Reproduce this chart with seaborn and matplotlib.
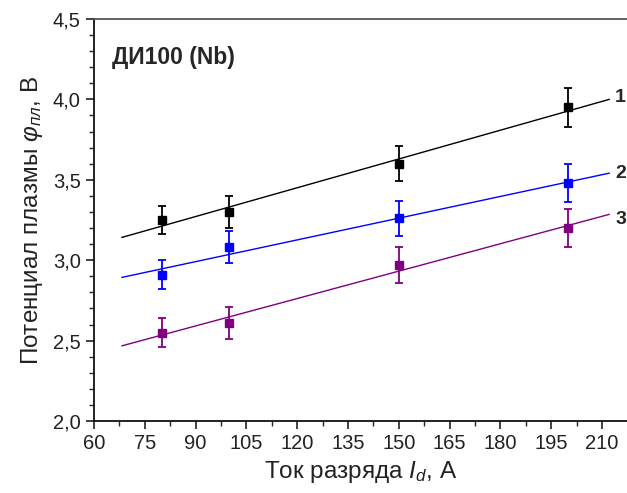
import numpy as np
import pandas as pd
import matplotlib
matplotlib.use("Agg")
import matplotlib.pyplot as plt
import seaborn as sns
from matplotlib.ticker import MultipleLocator, FuncFormatter

# ---- data ----
current = [80, 100, 150, 200]
phi_1 = [3.25, 3.30, 3.60, 3.95]
err_1 = [0.09, 0.10, 0.11, 0.12]
phi_2 = [2.91, 3.08, 3.26, 3.48]
err_2 = [0.09, 0.10, 0.11, 0.12]
phi_3 = [2.55, 2.61, 2.97, 3.20]
err_3 = [0.09, 0.10, 0.11, 0.12]
series_names = ["1", "2", "3"]
colors = ["#000000", "#0000FF", "#800080"]
fit_range = [68.2, 212.2]

sns.set_style("ticks")
plt.rcParams['font.family'] = ['Liberation Sans', 'DejaVu Sans']
plt.rcParams['mathtext.fontset'] = 'custom'
plt.rcParams['mathtext.rm'] = 'Liberation Sans'
plt.rcParams['mathtext.it'] = 'Liberation Sans:italic'

fig = plt.figure(figsize=(6.27, 4.93), dpi=100)
ax = fig.add_axes([94/627, 1-421/493, 1-94/627, (421-19)/493])

rows = []
for name, ys, es in zip(series_names, [phi_1, phi_2, phi_3], [err_1, err_2, err_3]):
    for x, y, e in zip(current, ys, es):
        rows.append({"series": name, "I": x, "phi": y, "err": e})
df = pd.DataFrame(rows)

fit_rows = []
for name, ys in zip(series_names, [phi_1, phi_2, phi_3]):
    k, b = np.polyfit(current, ys, 1)
    for x in fit_range:
        fit_rows.append({"series": name, "I": x, "phi": k * x + b})
fit_df = pd.DataFrame(fit_rows)

palette = dict(zip(series_names, colors))
sns.lineplot(data=fit_df, x="I", y="phi", hue="series", palette=palette,
             linewidth=1.0, legend=False, ax=ax)

for name in series_names:
    sub = df[df.series == name]
    ax.errorbar(sub["I"], sub["phi"], yerr=sub["err"], fmt="s", color=palette[name],
                markersize=5.5, capsize=3, elinewidth=1.3, capthick=1.3)

label_y = [4.01, 3.54, 3.25]
for name, yl in zip(series_names, label_y):
    ax.text(213.9, yl, name, fontsize=14, fontweight="bold", va="center", ha="left")

ax.text(0.034, 0.905, "ДИ100 (Nb)", transform=ax.transAxes, fontsize=16.5,
        fontweight="bold", va="center", ha="left")

ax.set_xlim(60, 217.4)
ax.set_ylim(2.0, 4.5)
ax.xaxis.set_major_locator(MultipleLocator(15))
ax.xaxis.set_minor_locator(MultipleLocator(7.5))
ax.yaxis.set_major_locator(MultipleLocator(0.5))
ax.yaxis.set_minor_locator(MultipleLocator(0.1))
ax.yaxis.set_major_formatter(FuncFormatter(lambda v, p: f"{v:.1f}".replace(".", ",")))
ax.tick_params(which="major", direction="out", length=6, width=1.2, labelsize=14.5, colors="#222222")
ax.tick_params(which="minor", direction="out", length=3.5, width=1.0)
ax.tick_params(axis="both", labelcolor="#222222")

for s in ["left", "bottom"]:
    ax.spines[s].set_linewidth(1.3)
    ax.spines[s].set_color("#111111")
ax.spines["top"].set_visible(True)
ax.spines["top"].set_linewidth(1.3)
ax.spines["top"].set_color("#555555")
ax.spines["right"].set_visible(False)

ax.set_xlabel(r"Ток разряда $I_d$, А", fontsize=17.5, color="#222222", labelpad=4)
ax.set_ylabel(r"Потенциал плазмы $\varphi_{пл}$, В", fontsize=17.5, color="#222222", labelpad=6)

fig.savefig("out.png", dpi=100)
